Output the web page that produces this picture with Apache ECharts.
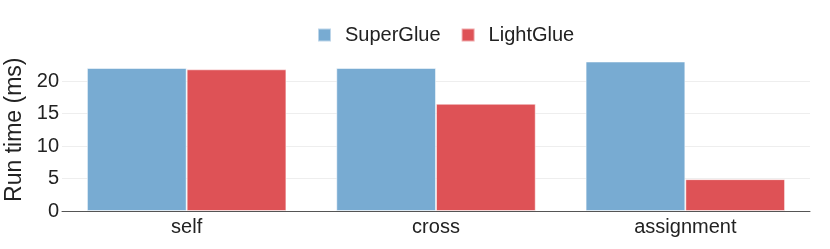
<!DOCTYPE html>
<html><head><meta charset="utf-8">
<script src="https://cdn.jsdelivr.net/npm/echarts@6/dist/echarts.min.js"></script>
<style>html,body{margin:0;padding:0;background:#fff}#c{width:830px;height:249px}</style>
</head><body><div id="c"></div>
<script>
const categories = ['self', 'cross', 'assignment'];
const seriesNames = ['SuperGlue', 'LightGlue'];
const superGlue = [22.0, 22.0, 23.0];
const lightGlue = [21.8, 16.5, 4.9];
const chart = echarts.init(document.getElementById('c'), null, {renderer: 'canvas'});
const font = 'Liberation Sans, Arial, sans-serif';
chart.setOption({
  animation: false,
  backgroundColor: '#fff',
  legend: {
    top: 20, left: 312,
    itemWidth: 13, itemHeight: 13, itemGap: 20,
    icon: 'rect',
    textStyle: {fontFamily: font, fontSize: 20, color: '#222', padding: [0, 0, 0, 9]},
    data: seriesNames
  },
  grid: {left: 62, right: 20, top: 48.5, bottom: 38, outerBoundsMode: 'none', containLabel: false},
  xAxis: {
    type: 'category', data: categories,
    axisLine: {lineStyle: {color: '#555', width: 1}},
    axisTick: {show: false},
    axisLabel: {fontFamily: font, fontSize: 20, color: '#222', margin: 6}
  },
  yAxis: {
    type: 'value', min: 0, max: 25, interval: 5,
    name: 'Run time (ms)', nameLocation: 'middle', nameGap: 35,
    nameTextStyle: {fontFamily: font, fontSize: 23, color: '#222'},
    axisLine: {show: false}, axisTick: {show: false},
    axisLabel: {fontFamily: font, fontSize: 20, color: '#222', margin: 3, showMaxLabel: false},
    splitLine: {show: true, showMaxLine: false, lineStyle: {color: '#eeeeee', width: 1}}
  },
  series: [
    {name: seriesNames[0], type: 'bar', data: superGlue, barGap: '0%', barCategoryGap: '20%',
     itemStyle: {color: '#78abd2', borderColor: 'rgba(255,255,255,0.5)', borderWidth: 1}},
    {name: seriesNames[1], type: 'bar', data: lightGlue, barGap: '0%', barCategoryGap: '20%',
     itemStyle: {color: '#de5256', borderColor: 'rgba(255,255,255,0.5)', borderWidth: 1}}
  ]
});
</script></body></html>
